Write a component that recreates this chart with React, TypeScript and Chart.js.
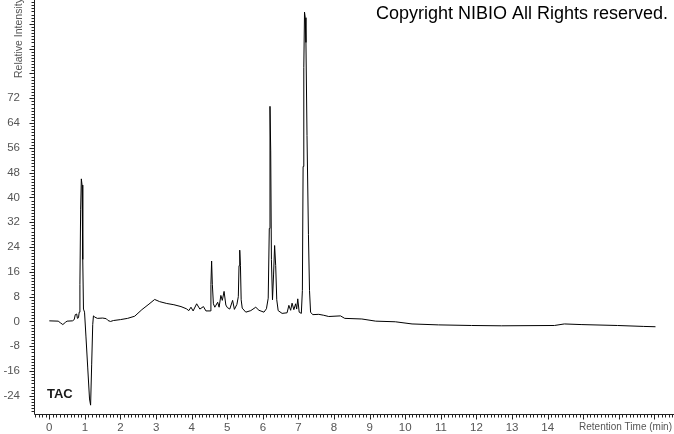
import { useEffect, useRef } from 'react';
import { Chart, registerables } from 'chart.js';

Chart.register(...registerables);

// Retention time (min) and relative intensity
const retentionTime = [
  0.0, 0.25, 0.32, 0.38, 0.45, 0.5, 0.65, 0.7, 0.73, 0.77, 0.79, 0.82, 0.84, 0.86, 0.88, 0.9, 0.92, 0.94, 0.96, 0.99,
  1.03, 1.08, 1.13, 1.16, 1.19, 1.22, 1.24, 1.28, 1.35, 1.5, 1.6, 1.65, 1.72, 1.8, 2.0, 2.2, 2.4, 2.6, 2.8, 2.96,
  3.1, 3.3, 3.5, 3.7, 3.85, 3.92, 3.98, 4.04, 4.14, 4.23, 4.33, 4.4, 4.52, 4.54, 4.56, 4.58, 4.61, 4.65, 4.73, 4.77,
  4.82, 4.86, 4.91, 4.96, 5.0, 5.07, 5.15, 5.2, 5.27, 5.31, 5.33, 5.35, 5.37, 5.39, 5.42, 5.52, 5.66, 5.8, 5.89, 6.03,
  6.1, 6.15, 6.18, 6.2, 6.22, 6.24, 6.27, 6.3, 6.33, 6.36, 6.39, 6.43, 6.54, 6.68, 6.73, 6.78, 6.82, 6.87, 6.92, 6.95,
  6.98, 7.02, 7.08, 7.11, 7.13, 7.15, 7.17, 7.19, 7.21, 7.24, 7.28, 7.31, 7.34, 7.4, 7.57, 7.71, 7.85, 8.18, 8.3, 8.78,
  9.17, 9.72, 10.19, 10.93, 11.86, 12.7, 14.19, 14.47, 14.94, 15.96, 16.7, 17.03,
];
const intensity = [
  0.2, 0.1, -0.5, -1.0, -0.3, 0.1, 0.2, 0.6, 2.2, 2.4, 1.0, 1.2, 3.0, 12, 36, 46, 44, 20, 4.0, 3.0,
  -5, -15, -25, -27, -14, -1, 1.8, 1.4, 1.0, 1.1, 0.9, 0.3, 0.0, 0.3, 0.6, 1.0, 1.7, 3.8, 5.6, 7.1,
  6.4, 5.8, 5.4, 4.8, 4.1, 3.5, 4.6, 3.4, 5.7, 4.0, 4.8, 3.4, 3.4, 12, 19.5, 12, 5.7, 4.6, 6.2, 4.6,
  8.4, 6.8, 9.7, 5.3, 4.5, 4.0, 6.8, 3.9, 5.5, 8.0, 18, 23, 18, 7.0, 4.3, 3.0, 3.5, 4.6, 3.6, 3.0,
  4.1, 7.5, 30, 69.4, 55, 20, 7.0, 15, 24.5, 18, 7.0, 3.5, 2.6, 2.8, 5.2, 3.6, 5.9, 3.8, 5.7, 4.0,
  7.3, 3.0, 2.6, 10, 50, 82, 99.8, 98, 90, 60, 28, 10, 3.0, 2.2, 2.3, 2.0, 1.6, 1.8, 1.0, 0.8,
  0.1, -0.1, -0.8, -1.1, -1.3, -1.4, -1.3, -0.8, -1.0, -1.3, -1.6, -1.7,
];

const xTickLabels = ['0', '1', '2', '3', '4', '5', '6', '7', '8', '9', '10', '11', '12', '13', '14'];
const yTickLabels = ['-24', '-16', '-8', '0', '8', '16', '24', '32', '40', '48', '56', '64', '72'];
const xRange = [-0.43, 17.55];
const yRange = [-29.85, 103.7];
const xMinorStep = 0.1;
const yMinorStep = 1;
const yMajorStep = 8;

const titleText = 'Copyright NIBIO All Rights reserved.';
const traceName = 'TAC';
const xAxisTitle = 'Retention Time (min)';
const yAxisTitle = 'Relative Intensity';

const axesPlugin = {
  id: 'nibioAxes',
  afterDraw(chart: any) {
    const { ctx, chartArea } = chart;
    const xs = chart.scales.x;
    const ys = chart.scales.y;
    ctx.save();
    ctx.strokeStyle = '#222';
    ctx.lineWidth = 1;
    const ax = Math.round(chartArea.left) + 0.5;
    const ay = Math.round(chartArea.bottom) + 0.5;
    ctx.beginPath();
    ctx.moveTo(ax, chartArea.top);
    ctx.lineTo(ax, ay);
    ctx.lineTo(chartArea.right, ay);
    const yStart = Math.ceil(ys.min / yMinorStep);
    const yEnd = Math.floor(ys.max / yMinorStep);
    for (let i = yStart; i <= yEnd; i++) {
      const v = i * yMinorStep;
      const py = Math.round(ys.getPixelForValue(v)) + 0.5;
      const len = v % yMajorStep === 0 ? 5 : 3;
      ctx.moveTo(ax - len, py);
      ctx.lineTo(ax, py);
    }
    const xStart = Math.ceil(xs.min / xMinorStep);
    const xEnd = Math.floor(xs.max / xMinorStep);
    for (let i = xStart; i <= xEnd; i++) {
      const px = Math.round(xs.getPixelForValue(i * xMinorStep)) + 0.5;
      const len = i % 10 === 0 ? 5 : 3;
      ctx.moveTo(px, ay);
      ctx.lineTo(px, ay + len);
    }
    ctx.stroke();

    ctx.fillStyle = '#555';
    ctx.font = '11.5px "Liberation Sans", Arial, sans-serif';
    ctx.textAlign = 'right';
    ctx.textBaseline = 'middle';
    yTickLabels.forEach((lab) => {
      ctx.fillText(lab, 20, ys.getPixelForValue(Number(lab)));
    });
    ctx.textAlign = 'center';
    xTickLabels.forEach((lab) => {
      ctx.fillText(lab, xs.getPixelForValue(Number(lab)), ay + 13);
    });
    ctx.font = '10px "Liberation Sans", Arial, sans-serif';
    ctx.textAlign = 'right';
    ctx.fillText(xAxisTitle, 672, ay + 13);

    ctx.save();
    ctx.translate(22, 78);
    ctx.rotate(-Math.PI / 2);
    ctx.textAlign = 'left';
    ctx.textBaseline = 'alphabetic';
    ctx.font = '10.5px "Liberation Sans", Arial, sans-serif';
    ctx.fillText(yAxisTitle, 0, 0);
    ctx.restore();

    ctx.fillStyle = '#1a1a1a';
    ctx.font = 'bold 13px "Liberation Sans", Arial, sans-serif';
    ctx.textAlign = 'left';
    ctx.textBaseline = 'middle';
    ctx.fillText(traceName, 47, 394);

    ctx.fillStyle = '#000';
    ctx.font = '18px "Liberation Sans", Arial, sans-serif';
    ctx.textAlign = 'right';
    ctx.fillText(titleText, 668, 14);
    ctx.restore();
  },
};

export default function App() {
  const ref = useRef<HTMLCanvasElement | null>(null);
  useEffect(() => {
    document.body.style.margin = '0';
    const canvas = ref.current;
    if (!canvas) return;
    const points = retentionTime.map((t, i) => ({ x: t, y: intensity[i] }));
    const chart = new Chart(canvas, {
      type: 'line',
      data: {
        datasets: [
          {
            label: traceName,
            data: points,
            borderColor: '#000',
            borderWidth: 1,
            pointRadius: 0,
            tension: 0,
            fill: false,
          },
        ],
      },
      options: {
        animation: false,
        responsive: false,
        devicePixelRatio: 1,
        layout: { padding: { left: 34, right: 0, top: 0, bottom: 20 } },
        plugins: { legend: { display: false }, tooltip: { enabled: false }, title: { display: false } },
        scales: {
          x: { type: 'linear', min: xRange[0], max: xRange[1], display: false },
          y: { type: 'linear', min: yRange[0], max: yRange[1], display: false },
        },
      },
      plugins: [axesPlugin],
    });
    return () => chart.destroy();
  }, []);
  return (
    <div style={{ width: 674, height: 434, background: '#fff' }}>
      <canvas ref={ref} width={674} height={434} style={{ display: 'block' }} />
    </div>
  );
}
